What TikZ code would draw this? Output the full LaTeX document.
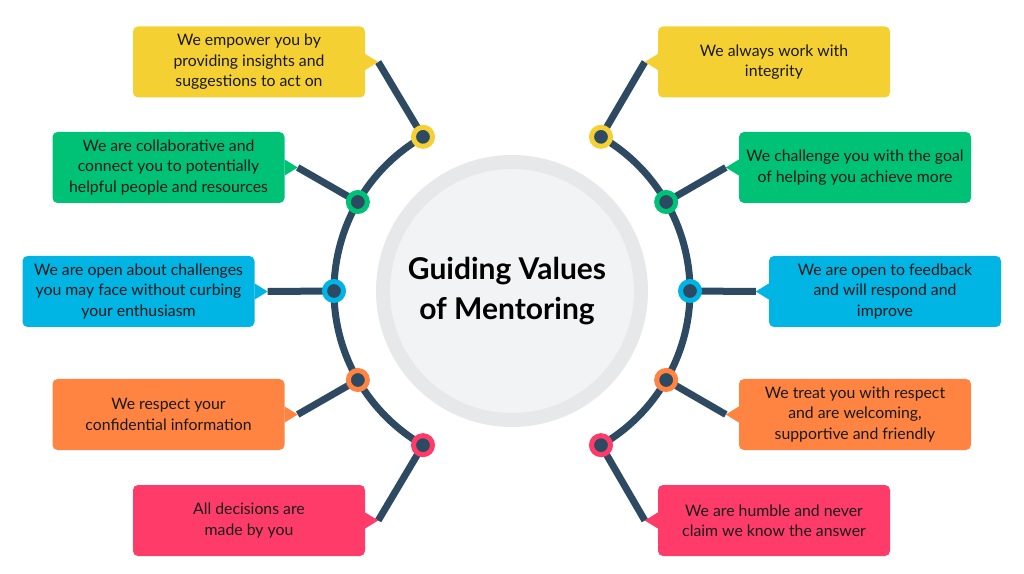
\documentclass[tikz,border=0pt]{standalone}
\usepackage{fontspec}
\setmainfont{Lato}
\usetikzlibrary{positioning,arrows.meta}

\definecolor{valYellow}{HTML}{F5D033}
\definecolor{valGreen}{HTML}{00C277}
\definecolor{valBlue}{HTML}{00B4E4}
\definecolor{valOrange}{HTML}{FF8442}
\definecolor{valPink}{HTML}{FF3C69}
\definecolor{spine}{HTML}{2D4A62}
\definecolor{ringGray}{HTML}{E7E8EA}
\definecolor{hubGray}{HTML}{F2F3F5}

\begin{document}
\begin{tikzpicture}[x=1pt, y=1pt,
        value/.style={rounded corners=5pt, align=center, minimum width=232pt, minimum height=71pt,
            inner sep=0pt, text=black!90, font=\fontsize{15.8}{20.5}\selectfont},
        dot/.style={circle, fill=spine, draw=#1, line width=5pt, minimum size=19pt, inner sep=0pt},
        link/.style={draw=spine, line width=7pt},
        >=Stealth]
        \useasboundingbox (0,0) rectangle (1024,573);
        % hub
        \node[circle, fill=hubGray, draw=ringGray, line width=14pt, minimum size=258pt] (hub) at (512,282) {};
        \node[align=center, font=\fontsize{30}{40}\selectfont\bfseries] (title) at (507,282) {Guiding Values\\of Mentoring};
        \draw[link] (hub.center) ++(120:178) arc (120:240:178);
        \draw[link] (hub.center) ++(60:178) arc (60:-60:178);
        % dots on the arcs
        \coordinate (l1) at ([shift={(120:178)}]hub.center);
        \coordinate (l2) at ([shift={(150:178)}]hub.center);
        \coordinate (l3) at ([shift={(180:178)}]hub.center);
        \coordinate (l4) at ([shift={(210:178)}]hub.center);
        \coordinate (l5) at ([shift={(240:178)}]hub.center);
        \coordinate (r1) at ([shift={(60:178)}]hub.center);
        \coordinate (r2) at ([shift={(30:178)}]hub.center);
        \coordinate (r3) at ([shift={(0:178)}]hub.center);
        \coordinate (r4) at ([shift={(-30:178)}]hub.center);
        \coordinate (r5) at ([shift={(-60:178)}]hub.center);
        % left values
        \node[value, fill=valYellow] (empower) at (249,511) {We empower you by\\providing insights and\\suggestions to act on};
        \node[value, fill=valGreen] (collab) at (168.5,405.5) {We are collaborative and\\connect you to potentially\\helpful people and resources};
        \node[value, fill=valBlue] (open) at (138.5,281.5) {We are open about challenges\\you may face without curbing\\your enthusiasm};
        \node[value, fill=valOrange] (respect) at (168.5,158.5) {We respect your\\confidential information};
        \node[value, fill=valPink] (decide) at (249,52.5) {All decisions are\\made by you};
        % right values
        \node[value, fill=valYellow] (integrity) at (774,511) {We always work with\\integrity};
        \node[value, fill=valGreen] (challenge) at (855,405.5) {We challenge you with the goal\\of helping you achieve more};
        \node[value, fill=valBlue] (feedback) at (885,281.5) {We are open to feedback\\and will respond and\\improve};
        \node[value, fill=valOrange] (welcome) at (855,158.5) {We treat you with respect\\and are welcoming,\\supportive and friendly};
        \node[value, fill=valPink] (humble) at (774,52.5) {We are humble and never\\claim we know the answer};
        % pointer tips
        \coordinate (tEmpower) at ([xshift=13pt]empower.east);
        \coordinate (tCollab) at ([xshift=13pt]collab.east);
        \coordinate (tOpen) at ([xshift=13pt]open.east);
        \coordinate (tRespect) at ([xshift=13pt]respect.east);
        \coordinate (tDecide) at ([xshift=13pt]decide.east);
        \coordinate (tIntegrity) at ([xshift=-13pt]integrity.west);
        \coordinate (tChallenge) at ([xshift=-13pt]challenge.west);
        \coordinate (tFeedback) at ([xshift=-13pt]feedback.west);
        \coordinate (tWelcome) at ([xshift=-13pt]welcome.west);
        \coordinate (tHumble) at ([xshift=-13pt]humble.west);
        % links
        \draw[link] (l1) -- (tEmpower);
        \draw[link] (l2) -- (tCollab);
        \draw[link] (l3) -- (tOpen);
        \draw[link] (l4) -- (tRespect);
        \draw[link] (l5) -- (tDecide);
        \draw[link] (r1) -- (tIntegrity);
        \draw[link] (r2) -- (tChallenge);
        \draw[link] (r3) -- (tFeedback);
        \draw[link] (r4) -- (tWelcome);
        \draw[link] (r5) -- (tHumble);
        % pointers
        \fill[valYellow] ([yshift=8pt]empower.east) -- (tEmpower) -- ([yshift=-8pt]empower.east) -- cycle;
        \fill[valGreen] ([yshift=8pt]collab.east) -- (tCollab) -- ([yshift=-8pt]collab.east) -- cycle;
        \fill[valBlue] ([yshift=8pt]open.east) -- (tOpen) -- ([yshift=-8pt]open.east) -- cycle;
        \fill[valOrange] ([yshift=8pt]respect.east) -- (tRespect) -- ([yshift=-8pt]respect.east) -- cycle;
        \fill[valPink] ([yshift=8pt]decide.east) -- (tDecide) -- ([yshift=-8pt]decide.east) -- cycle;
        \fill[valYellow] ([yshift=8pt]integrity.west) -- (tIntegrity) -- ([yshift=-8pt]integrity.west) -- cycle;
        \fill[valGreen] ([yshift=8pt]challenge.west) -- (tChallenge) -- ([yshift=-8pt]challenge.west) -- cycle;
        \fill[valBlue] ([yshift=8pt]feedback.west) -- (tFeedback) -- ([yshift=-8pt]feedback.west) -- cycle;
        \fill[valOrange] ([yshift=8pt]welcome.west) -- (tWelcome) -- ([yshift=-8pt]welcome.west) -- cycle;
        \fill[valPink] ([yshift=8pt]humble.west) -- (tHumble) -- ([yshift=-8pt]humble.west) -- cycle;
        % dots
        \node[dot=valYellow] (dEmpower) at (l1) {};
        \node[dot=valGreen] (dCollab) at (l2) {};
        \node[dot=valBlue] (dOpen) at (l3) {};
        \node[dot=valOrange] (dRespect) at (l4) {};
        \node[dot=valPink] (dDecide) at (l5) {};
        \node[dot=valYellow] (dIntegrity) at (r1) {};
        \node[dot=valGreen] (dChallenge) at (r2) {};
        \node[dot=valBlue] (dFeedback) at (r3) {};
        \node[dot=valOrange] (dWelcome) at (r4) {};
        \node[dot=valPink] (dHumble) at (r5) {};
    \end{tikzpicture}
\end{document}
